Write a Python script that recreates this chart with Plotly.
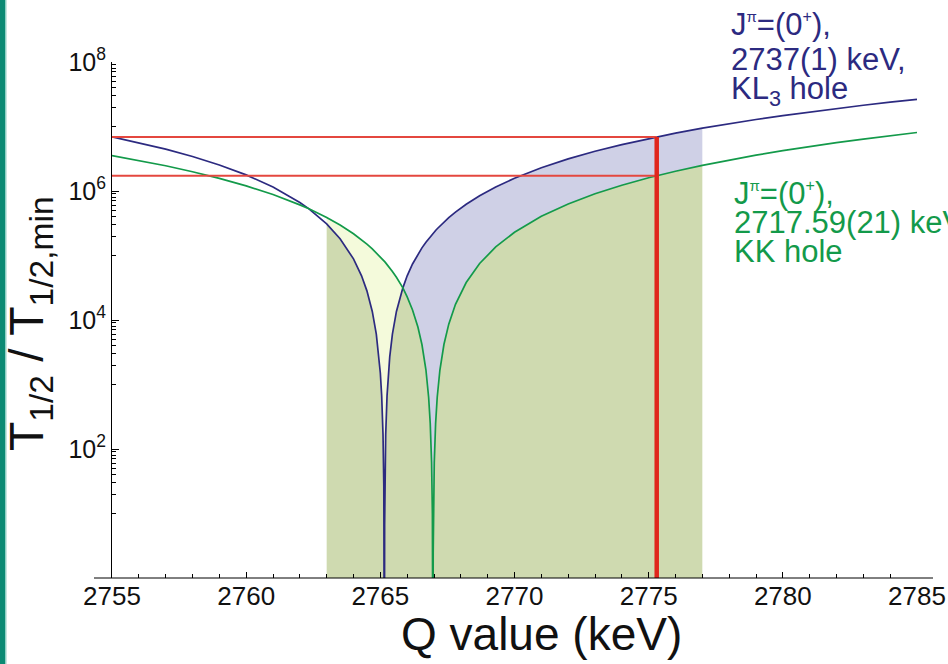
import numpy as np
import plotly.graph_objects as go

# ---------------- data ----------------
q_kev = [2755, 2756, 2757, 2758, 2759, 2760, 2761, 2762, 2762.34, 2763, 2763.5, 2764,
         2764.3, 2764.5, 2764.7, 2764.85, 2764.95, 2765.0, 2765.05, 2765.1, 2765.13, 2765.14,
         2765.15, 2765.16, 2765.17, 2765.2, 2765.25, 2765.3, 2765.35, 2765.45, 2765.6, 2765.84,
         2766.0, 2766.2, 2766.4, 2766.55, 2766.7, 2766.8, 2766.86, 2766.91, 2766.94, 2766.95,
         2766.96, 2766.97, 2766.98, 2767.01, 2767.06, 2767.12, 2767.22, 2767.37, 2767.55, 2767.8,
         2768.2, 2768.7, 2769.3, 2770, 2771, 2772, 2773, 2774, 2775, 2775.3, 2776, 2777,
         2778, 2779, 2780, 2781, 2782, 2783, 2784, 2785]

# KL3-hole state (blue)
t_kl3 = [6.90e6, 5.61e6, 4.45e6, 3.425e6, 2.534e6, 1.777e6, 1.154e6, 6.65e5, 5.29e5, 3.097e5, 1.824e5, 8.86e4,
         4.84e4, 2.83e4, 1.357e4, 6030, 2680, 1508, 670, 167.5, 26.8, 6.7,
         0.01, 6.7, 26.8, 167.5, 670, 1508, 2680, 6030, 1.357e4, 3.15e4,
         4.84e4, 7.39e4, 1.047e5, 1.313e5, 1.610e5, 1.824e5, 1.959e5, 2.075e5, 2.147e5, 2.171e5,
         2.195e5, 2.219e5, 2.244e5, 2.318e5, 2.444e5, 2.600e5, 2.871e5, 3.302e5, 3.859e5, 4.705e5,
         6.233e5, 8.444e5, 1.154e6, 1.576e6, 2.293e6, 3.144e6, 4.129e6, 5.248e6, 6.50e6, 6.90e6, 7.887e6, 9.408e6,
         1.106e7, 1.285e7, 1.477e7, 1.683e7, 1.902e7, 2.135e7, 2.381e7, 2.640e7]

# KK-hole state (green)
t_kk = [3.547e6, 2.979e6, 2.460e6, 1.991e6, 1.571e6, 1.201e6, 8.81e5, 6.10e5, 5.29e5, 3.889e5, 2.969e5, 2.173e5,
        1.755e5, 1.501e5, 1.267e5, 1.104e5, 1.002e5, 9.53e4, 9.05e4, 8.58e4, 8.31e4, 8.21e4,
        8.12e4, 8.04e4, 7.95e4, 7.68e4, 7.25e4, 6.83e4, 6.43e4, 5.65e4, 4.59e4, 3.15e4,
        2.286e4, 1.432e4, 7777, 4169, 1676, 635, 248, 62, 9.92, 2.48,
        0.01, 2.48, 9.92, 62, 248, 635, 1676, 4169, 8633, 1.750e4,
        3.813e4, 7.508e4, 1.358e5, 2.292e5, 4.048e5, 6.300e5, 9.048e5, 1.229e6, 1.603e6, 1.725e6, 2.027e6, 2.500e6,
        3.023e6, 3.595e6, 4.217e6, 4.889e6, 5.610e6, 6.381e6, 7.201e6, 8.071e6]

band_lo, band_hi = 2763.0, 2777.0      # Q-value uncertainty band
q_meas = 2775.3                         # measured Q value

x_ticks = [2755, 2760, 2765, 2770, 2775, 2780, 2785]
y_ticks = [1e2, 1e4, 1e6, 1e8]
y_ticktext = ["10<sup>2</sup>", "10<sup>4</sup>", "10<sup>6</sup>", "10<sup>8</sup>"]
y_minor = [k * 10.0 ** e for e in (1, 3, 5, 7) for k in range(1, 10)]

SUP_PI = '<sup><span style="font-size:15px">π</span></sup>'
SUP_PLUS = '<sup><span style="font-size:16px">+</span></sup>'
kl3_text = ["J" + SUP_PI + "=(0" + SUP_PLUS + "),", "2737(1) keV,", "KL<sub>3</sub> hole"]
kk_text = ["J" + SUP_PI + "=(0" + SUP_PLUS + "),", "2717.59(21) keV", "KK hole"]

# ---------------- colours ----------------
C_BLUE = "#2c2a80"
C_GREEN = "#139a4a"
C_OLIVE = "#cfdab0"
C_YELLOW = "#f4fadb"
C_LAV = "#cfd0e6"
C_RED = "#e0261c"
C_RED2 = "#e4473f"
FONT = "Liberation Sans, Arial, Helvetica, sans-serif"

q = np.array(q_kev, dtype=float)
b = np.array(t_kl3, dtype=float)
g = np.array(t_kk, dtype=float)
band = (q >= band_lo) & (q <= band_hi)
low = np.minimum(b, g)

fig = go.Figure()

# olive area below the lower curve, inside the band
xo = list(q[band]) + [band_hi, band_lo]
yo = list(low[band]) + [1e-3, 1e-3]
fig.add_trace(go.Scatter(x=xo, y=yo, fill="toself", fillcolor=C_OLIVE, mode="none",
                         hoverinfo="skip", showlegend=False))

# yellow: between blue (lower) and green (upper)
my = band & (b <= g)
fig.add_trace(go.Scatter(x=list(q[my]) + list(q[my][::-1]), y=list(g[my]) + list(b[my][::-1]),
                         fill="toself", fillcolor=C_YELLOW, mode="none", hoverinfo="skip",
                         showlegend=False))
# lavender: between green (lower) and blue (upper)
ml = band & (b >= g)
fig.add_trace(go.Scatter(x=list(q[ml]) + list(q[ml][::-1]), y=list(b[ml]) + list(g[ml][::-1]),
                         fill="toself", fillcolor=C_LAV, mode="none", hoverinfo="skip",
                         showlegend=False))

fig.add_trace(go.Scatter(x=q_kev, y=t_kl3, mode="lines", line=dict(color=C_BLUE, width=1.7),
                         showlegend=False))
fig.add_trace(go.Scatter(x=q_kev, y=t_kk, mode="lines", line=dict(color=C_GREEN, width=1.7),
                         showlegend=False))

i_meas = q_kev.index(q_meas)
t_b_meas = t_kl3[i_meas]
t_g_meas = t_kk[i_meas]
for tv in (t_b_meas, t_g_meas):
    fig.add_trace(go.Scatter(x=[q_kev[0], q_meas], y=[tv, tv], mode="lines",
                             line=dict(color=C_RED2, width=2), showlegend=False))
fig.add_trace(go.Scatter(x=[q_meas, q_meas], y=[1e-3, t_b_meas], mode="lines",
                         line=dict(color=C_RED, width=4.5), showlegend=False))

# ---------------- layout ----------------
L, R, T, B = 112, 31, 62, 86
W, H = 948, 664
pw, ph = W - L - R, H - T - B


def px2x(px):
    return (px - L) / pw


def px2y(py):
    return (H - B - py) / ph


shapes = [
    # x axis baseline (extends slightly past the range)
    dict(type="line", xref="paper", yref="paper", x0=-18 / pw, x1=1 + 16 / pw, y0=0, y1=0,
         line=dict(color="black", width=1), layer="above"),
    # teal border at left edge of the page
    dict(type="rect", xref="paper", yref="paper", x0=px2x(0), x1=px2x(5), y0=px2y(H), y1=px2y(0),
         fillcolor="#0b8a73", line=dict(width=0), layer="above"),
    dict(type="rect", xref="paper", yref="paper", x0=px2x(5), x1=px2x(6.5), y0=px2y(H), y1=px2y(0),
         fillcolor="#8fd0c4", line=dict(width=0), layer="above"),
]

annotations = [
    dict(text="Q value (keV)", xref="paper", yref="paper", x=px2x(541), y=px2y(634),
         xanchor="center", yanchor="middle", showarrow=False,
         font=dict(family=FONT, size=46, color="#111111")),
    dict(text="T<sub>1/2</sub> / T<sub>1/2,min</sub>", xref="paper", yref="paper",
         x=px2x(30), y=px2y(324), xanchor="center", yanchor="middle", textangle=-90,
         showarrow=False, font=dict(family=FONT, size=48, color="#111111")),
]
for txt, ymid in zip(kl3_text, [24.5, 59.5, 91]):
    annotations.append(dict(text=txt, xref="paper", yref="paper", x=px2x(729), y=px2y(ymid),
                            xanchor="left", yanchor="middle", showarrow=False,
                            font=dict(family=FONT, size=31, color=C_BLUE)))
for txt, ymid in zip(kk_text, [193, 222.5, 251.5]):
    annotations.append(dict(text=txt, xref="paper", yref="paper", x=px2x(732), y=px2y(ymid),
                            xanchor="left", yanchor="middle", showarrow=False,
                            font=dict(family=FONT, size=31, color=C_GREEN)))

fig.update_layout(
    template="none",
    width=W, height=H,
    margin=dict(l=L, r=R, t=T, b=B, pad=0, autoexpand=False),
    paper_bgcolor="white", plot_bgcolor="white",
    font=dict(family=FONT, color="#111111"),
    showlegend=False,
    shapes=shapes, annotations=annotations,
    xaxis=dict(range=[2755, 2785], tickmode="array", tickvals=x_ticks,
               automargin=False, ticklabeloverflow="allow",
               ticks="inside", ticklen=6, tickwidth=1, tickcolor="black",
               minor=dict(dtick=1, tick0=2755, ticks="inside", ticklen=4, tickwidth=1, tickcolor="black"),
               showline=False, showgrid=False, zeroline=False,
               tickfont=dict(family=FONT, size=26, color="#111111")),
    yaxis=dict(type="log", range=[0, 8], tickmode="array", tickvals=y_ticks, ticktext=y_ticktext,
               automargin=False, ticklabeloverflow="allow",
               ticks="inside", ticklen=7, tickwidth=1, tickcolor="black",
               minor=dict(tickmode="array", tickvals=y_minor, ticks="inside", ticklen=4,
                          tickwidth=1, tickcolor="black", showgrid=False),
               showline=True, linecolor="black", linewidth=1,
               showgrid=False, zeroline=False,
               tickfont=dict(family=FONT, size=25, color="#111111")),
)

fig.write_html("out.html")
